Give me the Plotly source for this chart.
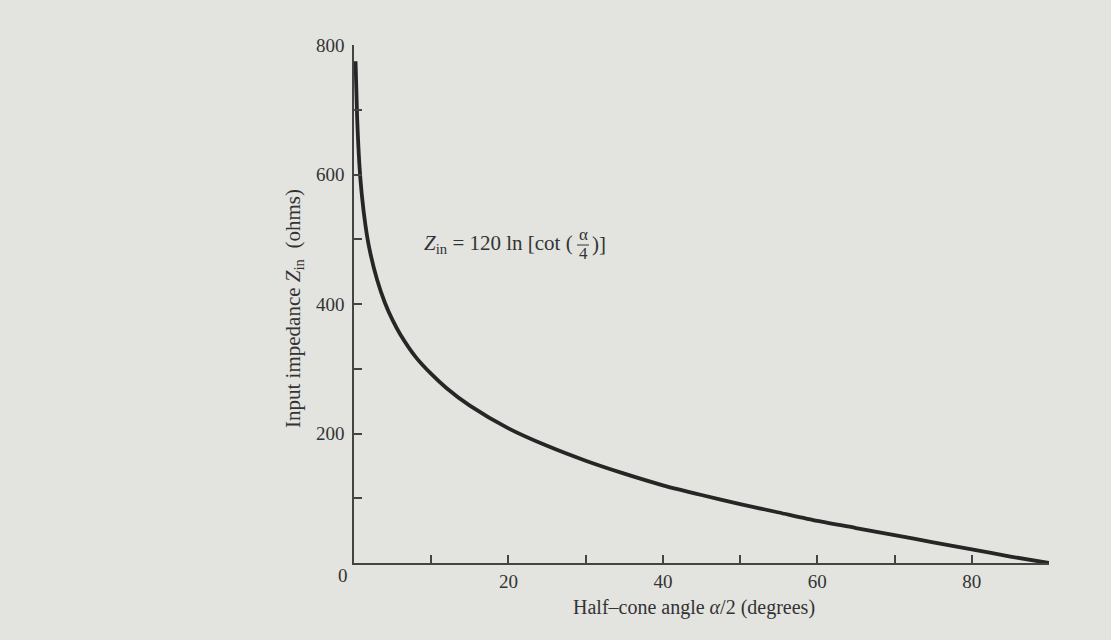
import plotly.graph_objects as go

# Values
half_angle_deg = [0.2, 0.4, 0.7, 1.0, 1.5, 2, 3, 4, 5, 6, 8, 10, 12, 15, 20, 25,
                  30, 35, 40, 45, 50, 55, 60, 65, 70, 75, 80, 85, 90]
impedance_ohms = [775, 690, 615, 570, 520, 485, 437, 402, 375, 353, 318, 292, 270,
                  243, 208, 181, 158, 138, 120, 105, 91, 78, 65, 54, 43, 32, 21, 10, 0]

x_tick_vals = [0, 10, 20, 30, 40, 50, 60, 70, 80]
x_tick_text = ["", "", "20", "", "40", "", "60", "", "80"]
y_tick_vals = [0, 100, 200, 300, 400, 500, 600, 700, 800]
y_tick_text = ["", "", "200", "", "400", "", "600", "", "800"]

W, H = 1111, 640
L, R, T, B = 354, 62, 45, 77
X0, X1 = 0, 90
Y0, Y1 = 0, 800

def px_to_paper(px, py):
    return (px - L) / (W - L - R), (H - B - py) / (H - B - T)

ink = "#333333"
bg = "#e3e3e0"
font = "Liberation Serif"

fig = go.Figure()
fig.add_trace(go.Scatter(
    x=half_angle_deg, y=impedance_ohms, mode="lines",
    line=dict(color="#262626", width=3.8, shape="spline", smoothing=0.7),
    showlegend=False, hoverinfo="skip", cliponaxis=False,
))

axis_common = dict(
    showline=True, linecolor="#444444", linewidth=1.5,
    ticks="inside", ticklen=8, tickwidth=1.5, tickcolor="#444444",
    showgrid=False, zeroline=False,
    tickfont=dict(family=font, size=19, color=ink),
)
fig.update_xaxes(range=[X0, X1], tickmode="array", tickvals=x_tick_vals,
                 ticktext=x_tick_text, ticklabelstandoff=0, **axis_common)
fig.update_yaxes(range=[Y0, Y1], tickmode="array", tickvals=y_tick_vals,
                 ticktext=y_tick_text, ticklabelstandoff=4, **axis_common)

annotations = []
def ann(px, py, text, size, **kw):
    x, y = px_to_paper(px, py)
    d = dict(x=x, y=y, xref="paper", yref="paper", text=text, showarrow=False,
             xanchor="center", yanchor="middle",
             font=dict(family=font, size=size, color=ink))
    d.update(kw)
    annotations.append(d)

ann(343, 575, "0", 19)
# formula
ann(575, 244, "<i>Z</i><sub>in</sub> = 120 ln [cot (", 21, xanchor="right")
ann(583, 234, "α", 17)
ann(583, 254, "4", 17)
ann(590, 244, ")]", 21, xanchor="left")
# axis titles
ann(694, 607, "Half–cone angle <i>α</i>/2 (degrees)", 20)
ann(294, 309, "Input impedance <i>Z</i><sub>in</sub>  (ohms)", 21, textangle=-90)

l1, ly = px_to_paper(577, 245)
l2, _ = px_to_paper(589, 245)
fig.update_layout(
    width=W, height=H,
    margin=dict(l=L, r=R, t=T, b=B, pad=0),
    paper_bgcolor=bg, plot_bgcolor=bg,
    annotations=annotations,
    shapes=[dict(type="line", xref="paper", yref="paper", x0=l1, x1=l2, y0=ly, y1=ly,
                 line=dict(color=ink, width=1))],
)
fig.write_html("out.html", config={"displayModeBar": False},
               post_script="document.body.style.margin='0';document.body.style.background='%s';" % bg)
